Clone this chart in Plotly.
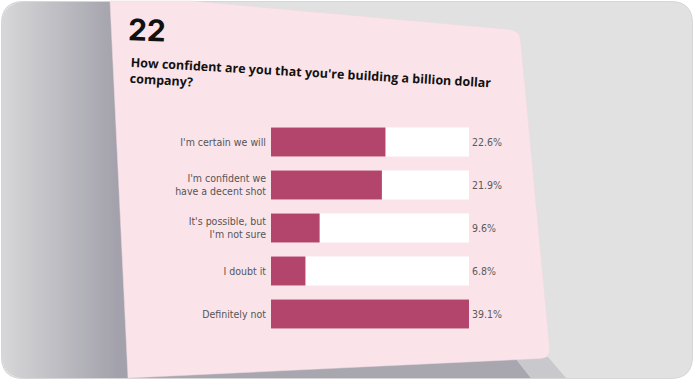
import math
import plotly.graph_objects as go

W, H = 694, 380

categories = ["I'm certain we will", "I'm confident we<br>have a decent shot",
              "It's possible, but<br>I'm not sure", "I doubt it", "Definitely not"]
values = [22.6, 21.9, 9.6, 6.8, 39.1]
value_labels = ["22.6%", "21.9%", "9.6%", "6.8%", "39.1%"]
track_max = 39.1
number_text = "22"
question_text = "How confident are you that you're building a billion dollar<br>company?"


def px(x):
    return x / W


def py(y):
    return 1 - y / H


def path(pts, close=True):
    s = "M %.5f,%.5f " % (px(pts[0][0]), py(pts[0][1]))
    for p in pts[1:]:
        if len(p) == 4:
            s += "Q %.5f,%.5f %.5f,%.5f " % (px(p[0]), py(p[1]), px(p[2]), py(p[3]))
        else:
            s += "L %.5f,%.5f " % (px(p[0]), py(p[1]))
    if close:
        s += "Z"
    return s


def shape(pts, fill, line=None, lw=0):
    return dict(type="path", xref="paper", yref="paper", path=path(pts),
                fillcolor=fill, line=dict(color=line or fill, width=lw), layer="below")


shapes = []
# outer frame (rounded rectangle)
L, T, R, B, r = 1.5, 1.5, 692.5, 378.5, 22
frame = [(L + r, T), (R - r, T), (R, T, R, T + r), (R, B - r), (R, B, R - r, B),
         (L + r, B), (L, B, L, B - r), (L, T + r), (L, T, L + r, T)]
shapes.append(shape(frame, "#e1e1e1", "#d6d6d6", 1))

# left gradient strips
c0 = (0xd7, 0xd7, 0xd9)
c1 = (0xa3, 0xa2, 0xac)
x = 2.0
step = 2.0
while x < 130:
    a, b = x, x + step + 0.6
    t = min(1.0, max(0.0, (x - 2) / 115))
    col = "rgb(%d,%d,%d)" % tuple(int(c0[i] + (c1[i] - c0[i]) * t) for i in range(3))
    m = x + step / 2
    if m < L + r:
        d = math.sqrt(max(0, r * r - (L + r - m) ** 2))
        top = T + r - d + 0.5
        bot = B - r + d - 0.5
    else:
        top, bot = 2, 378
    shapes.append(shape([(a, top), (b, top), (b, bot), (a, bot)], col))
    x += step

# bottom shadow under card
shapes.append(shape([(128, 378), (128, 370), (516, 359), (531, 378)], "#a8a7b0"))
shapes.append(shape([(516, 359), (548, 357), (566, 378), (531, 378)], "#c9c9cd"))

# pink card
card = [(110, 1), (191, 1), (509, 29.5), (519.5, 30.5, 520.5, 40), (549.5, 348),
        (550.5, 358, 540, 358.5), (128, 378)]
shapes.append(shape(card, "#fae4ea", "#f3d9e0", 0.5))

label_font = "Liberation Sans Narrow, DejaVu Sans Condensed, Roboto"

fig = go.Figure()
fig.add_trace(go.Bar(
    y=categories, x=[track_max] * len(categories), orientation="h",
    marker=dict(color="#ffffff", line=dict(width=0)),
    text=value_labels, textposition="outside", cliponaxis=False,
    textfont=dict(family=label_font, size=10.5, color="#5a5a5a"),
    hoverinfo="skip", showlegend=False))
fig.add_trace(go.Bar(
    y=categories, x=values, orientation="h",
    marker=dict(color="#b3446c", line=dict(width=0)),
    showlegend=False))

fig.update_layout(
    width=W, height=H, margin=dict(l=0, r=0, t=0, b=0),
    paper_bgcolor="#ffffff", plot_bgcolor="rgba(0,0,0,0)",
    barmode="overlay", bargap=0.32,
    shapes=shapes,
    xaxis=dict(domain=[px(271), px(469)], range=[0, track_max], visible=False, fixedrange=True),
    yaxis=dict(domain=[py(335.5), py(120.5)], autorange="reversed", showgrid=False,
               showline=False, zeroline=False, ticks="", ticklabelstandoff=4,
               tickfont=dict(family=label_font, size=10.5, color="#555555")),
    annotations=[
        dict(xref="paper", yref="paper", x=px(147), y=py(30), xanchor="center", yanchor="middle",
             text="<b>%s</b>" % number_text,
             showarrow=False, font=dict(family="Inter, Open Sans", size=30, color="#111111"),
             textangle=2),
        dict(xref="paper", yref="paper", x=px(310), y=py(80), xanchor="center", yanchor="middle",
             text="<b>%s</b>" % question_text,
             showarrow=False, align="left",
             font=dict(family="Open Sans", size=12.5, color="#111111"), textangle=3.3),
    ],
)

fig.write_html("out.html", config={"displayModeBar": False},
               post_script="document.body.style.margin='0';")
